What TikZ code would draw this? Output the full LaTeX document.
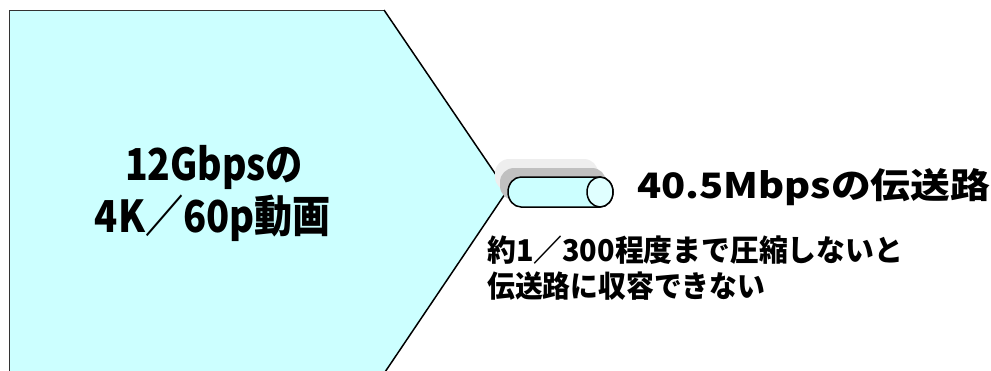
\documentclass[tikz,border=0pt]{standalone}
\usepackage{fontspec}
\usepackage{graphicx}
\newfontfamily\jp{Noto Sans CJK JP}
\definecolor{cyanfill}{HTML}{CCFFFF}
\definecolor{cyanend}{HTML}{E0FFFF}
\definecolor{shadowdark}{HTML}{C0C0C0}
\definecolor{shadowlight}{HTML}{EEEEEE}
\newcommand{\fitw}[2]{\resizebox{#1}{\height}{#2}}
\tikzset{
  bigtext/.style={font=\jp\bfseries\fontsize{44}{52}\selectfont, inner sep=0pt, anchor=base},
  pipetext/.style={font=\jp\bfseries\fontsize{35}{42}\selectfont, inner sep=0pt, anchor=base west},
  notetext/.style={font=\jp\bfseries\fontsize{30}{36}\selectfont, inner sep=0pt, anchor=base west},
  pipeline/.style={draw=black, line width=1.5pt},
  edge/.style={draw=black, line width=1.5pt}
}
\begin{document}
\begin{tikzpicture}[x=1pt,y=-1pt]
\useasboundingbox (0,0) rectangle (991,370);
\clip (0,0) rectangle (991,370);
% pentagon arrow
\coordinate (tl) at (9,10);
\coordinate (tr) at (384,10);
\coordinate (tip) at (507,191);
\coordinate (br) at (383,375);
\coordinate (bl) at (9,375);
\fill[cyanfill] (tl) -- (tr) -- (tip) -- (br) -- (bl) -- cycle;
\draw[black!80, line width=0.9pt] (bl) -- (tl) -- (tr);
\draw[edge] (tr) -- (tip) -- (br);
% shadows
\fill[shadowlight, rounded corners=14pt] (495,159) rectangle (598,191);
\fill[shadowdark, rounded corners=14pt] (500,168) rectangle (606,200);
% pipe (cylinder)
\coordinate (pipeTL) at (521,177);
\coordinate (pipeTR) at (600,177);
\coordinate (pipeBR) at (600,207);
\coordinate (pipeEnd) at (600,192);
\filldraw[pipeline, fill=cyanfill] (pipeTR) -- (pipeTL)
  arc[start angle=-90, end angle=-270, x radius=13, y radius=15]
  -- (pipeBR) arc[start angle=90, end angle=-90, x radius=13, y radius=15] -- cycle;
\filldraw[pipeline, fill=cyanend] (pipeEnd) ellipse [x radius=13, y radius=15];
% texts
\node[bigtext] (t1) at (214,180) {\fitw{178pt}{12Gbpsの}};
\node[bigtext] (t2) at (213,232) {\fitw{236pt}{4K／60p動画}};
\node[pipetext] (t3) at (637,198) {\fitw{353pt}{40.5Mbpsの伝送路}};
\node[notetext] (t4) at (487,261) {\fitw{416pt}{約1／300程度まで圧縮しないと}};
\node[notetext] (t5) at (487,297) {\fitw{278pt}{伝送路に収容できない}};
\end{tikzpicture}
\end{document}
